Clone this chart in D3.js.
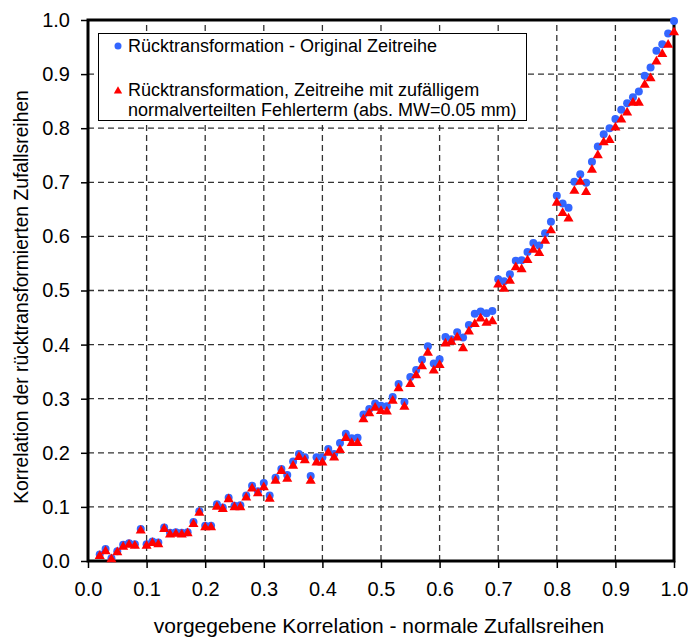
<!DOCTYPE html>
<html><head><meta charset="utf-8">
<script src="https://cdn.jsdelivr.net/npm/d3@7"></script>
<style>body{margin:0;background:#fff}svg{display:block}text{font-family:"Liberation Sans",Arial,sans-serif}</style>
</head><body>
<script>
const xValues = [0.02,0.03,0.04,0.05,0.06,0.07,0.08,0.09,0.10,0.11,0.12,0.13,0.14,0.15,0.16,0.17,0.18,0.19,0.20,0.21,0.22,0.23,0.24,0.25,0.26,0.27,0.28,0.29,0.30,0.31,0.32,0.33,0.34,0.35,0.36,0.37,0.38,0.39,0.40,0.41,0.42,0.43,0.44,0.45,0.46,0.47,0.48,0.49,0.50,0.51,0.52,0.53,0.54,0.55,0.56,0.57,0.58,0.59,0.60,0.61,0.62,0.63,0.64,0.65,0.66,0.67,0.68,0.69,0.70,0.71,0.72,0.73,0.74,0.75,0.76,0.77,0.78,0.79,0.80,0.81,0.82,0.83,0.84,0.85,0.86,0.87,0.88,0.89,0.90,0.91,0.92,0.93,0.94,0.95,0.96,0.97,0.98,0.99,1.00];
const originalSeries = [0.012,0.022,0.005,0.018,0.030,0.033,0.031,0.059,0.031,0.036,0.034,0.062,0.052,0.053,0.052,0.053,0.072,0.092,0.065,0.065,0.105,0.099,0.117,0.102,0.103,0.121,0.139,0.129,0.144,0.121,0.154,0.170,0.159,0.184,0.198,0.192,0.157,0.192,0.192,0.207,0.198,0.218,0.235,0.227,0.228,0.271,0.281,0.291,0.287,0.286,0.303,0.327,0.294,0.340,0.353,0.372,0.397,0.365,0.373,0.414,0.410,0.423,0.413,0.436,0.457,0.461,0.458,0.462,0.521,0.517,0.530,0.555,0.556,0.571,0.588,0.583,0.606,0.627,0.675,0.661,0.653,0.701,0.715,0.699,0.738,0.766,0.789,0.800,0.817,0.834,0.846,0.857,0.868,0.897,0.912,0.943,0.955,0.975,0.998];
const noisySeries = [0.009,0.018,0.003,0.016,0.026,0.030,0.028,0.056,0.028,0.033,0.031,0.059,0.049,0.050,0.049,0.051,0.068,0.089,0.062,0.062,0.100,0.096,0.114,0.099,0.099,0.117,0.134,0.125,0.136,0.115,0.148,0.166,0.152,0.176,0.192,0.186,0.148,0.182,0.182,0.200,0.191,0.205,0.227,0.218,0.218,0.262,0.273,0.283,0.277,0.276,0.296,0.319,0.285,0.327,0.343,0.360,0.385,0.352,0.362,0.402,0.405,0.413,0.393,0.424,0.438,0.448,0.440,0.443,0.511,0.503,0.518,0.543,0.539,0.556,0.575,0.569,0.592,0.611,0.662,0.643,0.633,0.684,0.701,0.682,0.723,0.750,0.774,0.778,0.801,0.816,0.829,0.847,0.847,0.880,0.892,0.923,0.937,0.954,0.977];
const tickValues = [0.0,0.1,0.2,0.3,0.4,0.5,0.6,0.7,0.8,0.9,1.0];
const legendLabels = ["Rücktransformation - Original Zeitreihe", "Rücktransformation, Zeitreihe mit zufälligem", "normalverteilten Fehlerterm (abs. MW=0.05 mm)"];
const xTitle = "vorgegebene Korrelation - normale Zufallsreihen";
const yTitle = "Korrelation der rücktransformierten Zufallsreihen";

const W = 688, H = 637;
const m = {left: 88, top: 20, right: 14, bottom: 76};
const pw = W - m.left - m.right, ph = H - m.top - m.bottom;
const svg = d3.select("body").append("svg").attr("width", W).attr("height", H);
const x = d3.scaleLinear().domain([0, 1]).range([m.left, m.left + pw]);
const y = d3.scaleLinear().domain([0, 1]).range([m.top + ph, m.top]);

// gridlines
const grid = svg.append("g");
grid.selectAll("line.v").data(tickValues.slice(1, -1)).join("line")
  .attr("x1", d => x(d)).attr("x2", d => x(d)).attr("y1", y(0)).attr("y2", y(1))
  .attr("stroke", "#333").attr("stroke-width", 1.3).attr("stroke-dasharray", "6,4");
grid.selectAll("line.h").data(tickValues.slice(1, -1)).join("line")
  .attr("y1", d => y(d)).attr("y2", d => y(d)).attr("x1", x(0)).attr("x2", x(1))
  .attr("stroke", "#333").attr("stroke-width", 1.3).attr("stroke-dasharray", "6,4");

// axes
const fmt = d3.format(".1f");
const xAxis = svg.append("g").attr("transform", `translate(0,${y(0)})`)
  .call(d3.axisBottom(x).tickValues(tickValues).tickFormat(fmt).tickSize(7).tickPadding(14));
const yAxis = svg.append("g").attr("transform", `translate(${x(0)},0)`)
  .call(d3.axisLeft(y).tickValues(tickValues).tickFormat(fmt).tickSize(7).tickPadding(11));
[xAxis, yAxis].forEach(a => {
  a.select(".domain").remove();
  a.selectAll(".tick line").attr("stroke", "#000").attr("stroke-width", 1.5);
  a.selectAll(".tick text").attr("font-size", 20).attr("fill", "#000")
    .attr("font-family", "Liberation Sans, Arial, sans-serif");
});

// frame
svg.append("rect").attr("x", x(0)).attr("y", y(1)).attr("width", x(1) - x(0)).attr("height", y(0) - y(1))
  .attr("fill", "none").attr("stroke", "#000").attr("stroke-width", 3);

// legend
const lg = svg.append("g");
lg.append("rect").attr("x", 98.5).attr("y", 33.5).attr("width", 428).attr("height", 87)
  .attr("fill", "#fff").attr("stroke", "#000").attr("stroke-width", 1);
lg.append("circle").attr("cx", 118).attr("cy", 46).attr("r", 3.5).attr("fill", "#3366ff");
lg.append("path").attr("d", d3.symbol(d3.symbolTriangle, 30)()).attr("transform", "translate(118,91)").attr("fill", "#ff0000");
lg.append("text").attr("x", 128).attr("y", 52).attr("font-size", 18).text(legendLabels[0]);
lg.append("text").attr("x", 128).attr("y", 96).attr("font-size", 18).text(legendLabels[1]);
lg.append("text").attr("x", 128).attr("y", 116).attr("font-size", 18).text(legendLabels[2]);

// data
const ptsO = xValues.map((v, i) => [v, originalSeries[i]]);
const ptsN = xValues.map((v, i) => [v, noisySeries[i]]);
svg.append("g").selectAll("circle").data(ptsO).join("circle")
  .attr("cx", d => x(d[0])).attr("cy", d => y(d[1])).attr("r", 4).attr("fill", "#3366ff");
const tri = d3.symbol(d3.symbolTriangle, 44)();
svg.append("g").selectAll("path").data(ptsN).join("path")
  .attr("d", tri).attr("transform", d => `translate(${x(d[0])},${y(d[1])})`).attr("fill", "#ff0000");

// titles
svg.append("text").attr("x", 379).attr("y", 633).attr("text-anchor", "middle").attr("font-size", 21).text(xTitle);
svg.append("text").attr("transform", "translate(28,297) rotate(-90)").attr("text-anchor", "middle").attr("font-size", 19.3).text(yTitle);
</script>
</body></html>
